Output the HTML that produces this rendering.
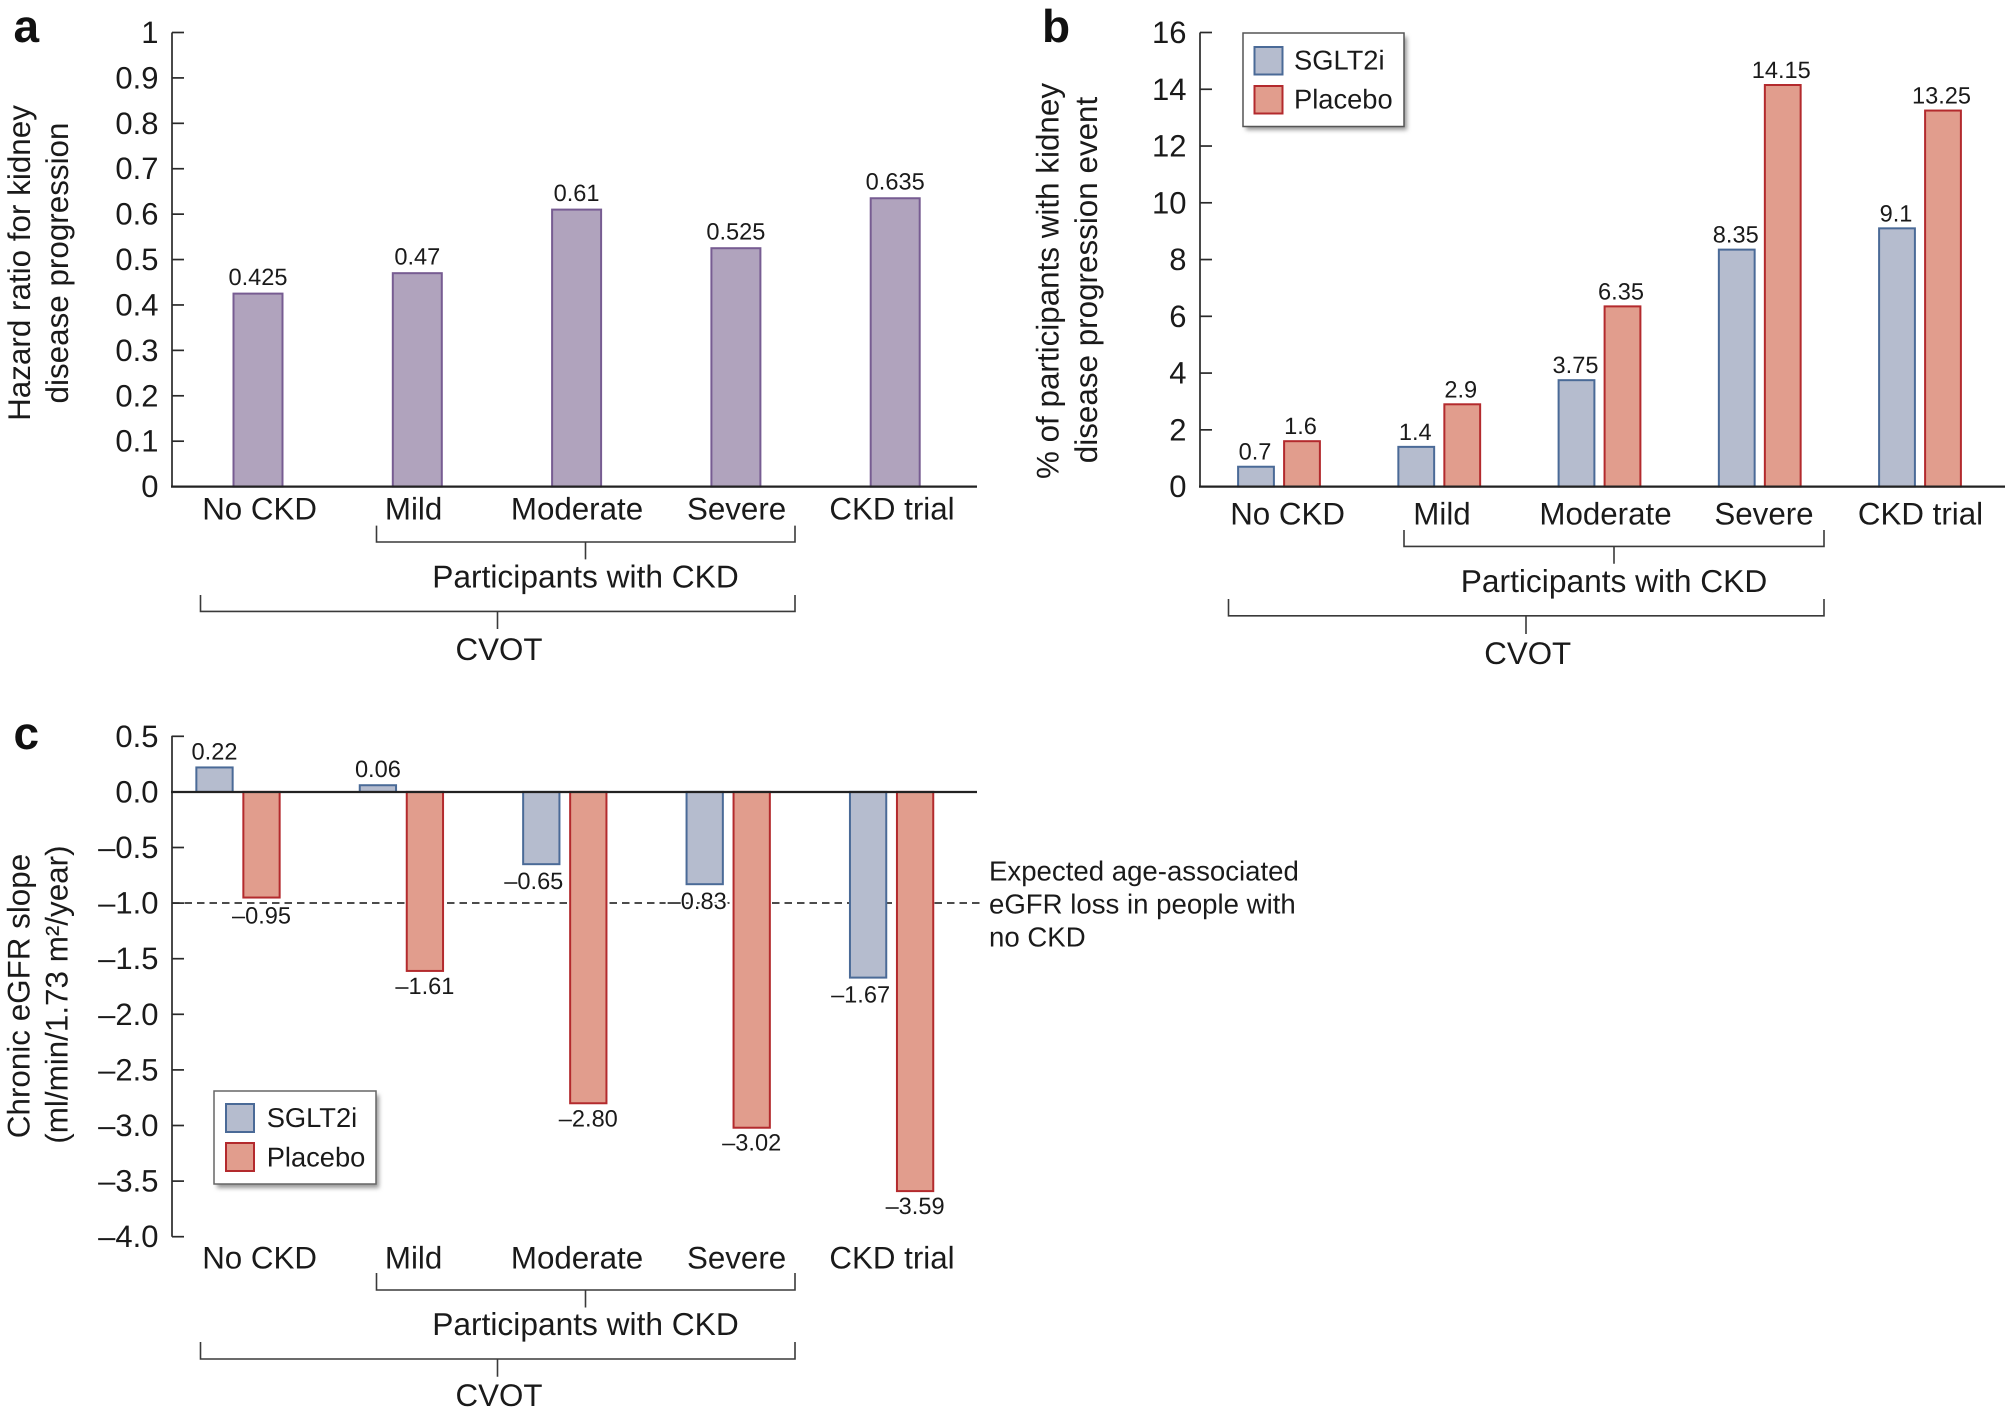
<!DOCTYPE html>
<html lang="en">
<head>
<meta charset="utf-8">
<title>Kidney outcomes with SGLT2 inhibitors</title>
<style>
html,body{margin:0;padding:0;background:#fff;}
svg{display:block;}
text{font-family:"Liberation Sans",sans-serif;fill:#1a1a1a;text-rendering:geometricPrecision;}
.tick{font-size:31px;text-anchor:end;}
.cat{font-size:31.3px;text-anchor:middle;}
.group{font-size:31.7px;text-anchor:middle;}
.title{font-size:31.4px;text-anchor:middle;}
.val{font-size:23.6px;text-anchor:middle;}
.leg{font-size:27.3px;}
.note{font-size:27.6px;}
.letter{font-size:46px;font-weight:bold;fill:#111;}
.ax{stroke:#2a2a2a;stroke-width:1.7;fill:none;}
.zero{stroke:#222;stroke-width:2.3;fill:none;}
.br{stroke:#3a3a3a;stroke-width:1.6;fill:none;}
.purple{fill:#b0a3bd;stroke:#775c92;stroke-width:2;}
.blue{fill:#b5bcce;stroke:#4a6a97;stroke-width:2;}
.red{fill:#e19d8d;stroke:#b32a2d;stroke-width:2;}
.halo{paint-order:stroke;stroke:#fff;stroke-width:4px;}
</style>
</head>
<body>
<svg xmlns="http://www.w3.org/2000/svg" width="2009" height="1413" viewBox="0 0 2009 1413">
<defs><filter id="soft" x="-10%" y="-10%" width="125%" height="125%"><feGaussianBlur stdDeviation="2"/></filter></defs>
<rect width="2009" height="1413" fill="#fff"/>

<!-- Panel a -->
<g>
<text class="letter" x="13.500" y="42">a</text>
<text class="title" transform="translate(30,263) rotate(-90)">Hazard ratio for kidney</text>
<text class="title" transform="translate(68,263) rotate(-90)">disease progression</text>
<g id="a-bars"></g>
<path class="ax" d="M172 32.5V486.6"/>
<g id="a-ticks"></g>
<path class="zero" d="M171 486.6H977"/>
<text class="cat" x="259.6" y="519.5">No CKD</text>
<text class="cat" x="413.6" y="519.5">Mild</text>
<text class="cat" x="577" y="519.5">Moderate</text>
<text class="cat" x="736.6" y="519.5">Severe</text>
<text class="cat" x="892" y="519.5">CKD trial</text>
<path class="br" d="M376.500 525.600V542H795V525.600M585.500 542V559.400"/>
<text class="group" x="585.500" y="587.600">Participants with CKD</text>
<path class="br" d="M200.500 595V611.400H795V595M497.500 611.400V629"/>
<text class="cat" x="499" y="660">CVOT</text>
</g>

<!-- Panel b -->
<g>
<text class="letter" x="1042" y="42">b</text>
<text class="title" transform="translate(1058.500,281) rotate(-90)">% of participants with kidney</text>
<text class="title" transform="translate(1097,280) rotate(-90)">disease progression event</text>
<g id="b-bars"></g>
<path class="ax" d="M1200 32.5V486.6"/>
<g id="b-ticks"></g>
<path class="zero" d="M1199 486.6H2005"/>
<text class="cat" x="1287.600" y="524.700">No CKD</text>
<text class="cat" x="1442" y="524.700">Mild</text>
<text class="cat" x="1605.500" y="524.700">Moderate</text>
<text class="cat" x="1764" y="524.700">Severe</text>
<text class="cat" x="1920.500" y="524.700">CKD trial</text>
<path class="br" d="M1404 530V546.400H1824V530M1614 546.400V563.700"/>
<text class="group" x="1614" y="592">Participants with CKD</text>
<path class="br" d="M1228.500 599V615.800H1824V599M1526 615.800V634"/>
<text class="cat" x="1527.700" y="664">CVOT</text>
<g>
<rect x="1246" y="37" width="161" height="93" fill="#999" filter="url(#soft)"/>
<rect x="1243" y="33" width="161" height="93.500" fill="#fff" stroke="#555" stroke-width="1.500"/>
<rect class="blue" x="1254.500" y="47" width="28" height="27.500"/>
<text class="leg" x="1294" y="69.500">SGLT2i</text>
<rect class="red" x="1254.500" y="86" width="28" height="27.500"/>
<text class="leg" x="1294" y="108.500">Placebo</text>
</g>
</g>

<!-- Panel c -->
<g>
<text class="letter" x="13.500" y="749">c</text>
<text class="title" transform="translate(29.600,996) rotate(-90)">Chronic eGFR slope</text>
<text class="title" transform="translate(67.600,994.600) rotate(-90)">(ml/min/1.73 m²/year)</text>
<path d="M172 903H980" fill="none" stroke="#111" stroke-width="1.500" stroke-dasharray="7.500 5"/>
<g id="c-bars"></g>
<path class="ax" d="M172 735.700V1236.700"/>
<g id="c-ticks"></g>
<path class="zero" d="M171 792H977"/>
<text class="note" x="989" y="880.500">Expected age-associated</text>
<text class="note" x="989" y="913.500">eGFR loss in people with</text>
<text class="note" x="989" y="946.500">no CKD</text>
<text class="cat" x="259.6" y="1268.400">No CKD</text>
<text class="cat" x="413.6" y="1268.400">Mild</text>
<text class="cat" x="577" y="1268.400">Moderate</text>
<text class="cat" x="736.6" y="1268.400">Severe</text>
<text class="cat" x="892" y="1268.400">CKD trial</text>
<path class="br" d="M376.500 1273V1290H795V1273M585.500 1290V1307.500"/>
<text class="group" x="585.500" y="1335">Participants with CKD</text>
<path class="br" d="M200.500 1342V1359H795V1342M497.500 1359V1376.700"/>
<text class="cat" x="499" y="1405.800">CVOT</text>
<g>
<rect x="217" y="1095" width="162" height="93" fill="#999" filter="url(#soft)"/>
<rect x="214" y="1091" width="162" height="93" fill="#fff" stroke="#666" stroke-width="1.500"/>
<rect class="blue" x="226" y="1104" width="28" height="28"/>
<text class="leg" x="266.700" y="1127">SGLT2i</text>
<rect class="red" x="226" y="1143" width="28" height="28"/>
<text class="leg" x="266.700" y="1166.500">Placebo</text>
</g>
</g>
</svg>

<script>
// Chart data
const categories = ['No CKD', 'Mild', 'Moderate', 'Severe', 'CKD trial'];
const hazardRatios = [0.425, 0.47, 0.61, 0.525, 0.635];
const eventSglt2i = [0.7, 1.4, 3.75, 8.35, 9.1];
const eventPlacebo = [1.6, 2.9, 6.35, 14.15, 13.25];
const slopeSglt2i = [0.22, 0.06, -0.65, -0.83, -1.67];
const slopePlacebo = [-0.95, -1.61, -2.8, -3.02, -3.59];
const hazardTicks = [0, 0.1, 0.2, 0.3, 0.4, 0.5, 0.6, 0.7, 0.8, 0.9, 1];
const eventTicks = [0, 2, 4, 6, 8, 10, 12, 14, 16];
const slopeTicks = [0.5, 0, -0.5, -1, -1.5, -2, -2.5, -3, -3.5, -4];

const SVG_NS = 'http://www.w3.org/2000/svg';

function linear(d0, d1, r0, r1) {
  return function (v) { return r0 + (v - d0) * (r1 - r0) / (d1 - d0); };
}
function band(start, step) {
  return function (i) { return start + i * step; };
}
function create(tag, attrs, parent, text) {
  const node = document.createElementNS(SVG_NS, tag);
  Object.keys(attrs).forEach(function (k) { node.setAttribute(k, attrs[k]); });
  if (text !== undefined) node.textContent = text;
  parent.appendChild(node);
  return node;
}
function slug(s) {
  return s.toLowerCase().replace(/\s+/g, '-');
}
function signed(text) {
  return text.replace('-', '\u2013');
}

function drawTicks(groupId, panel, ticks, y, axisX, format) {
  const g = document.getElementById(groupId);
  ticks.forEach(function (t) {
    const mark = create('path', { class: 'ax', d: 'M' + axisX + ' ' + y(t) + 'H' + (axisX + 12) }, g);
    
    
    const label = create('text', { class: 'tick', x: axisX - 13.5, y: y(t) + 10.5 }, g, format(t));
    
    
  });
}

function drawBar(g, panel, seriesName, cls, i, cx, width, value, y, format, nudge, gapAbove, gapBelow) {
  const y0 = y(0);
  const yv = y(value);
  const rect = create('rect', {
    class: cls,
    x: cx - width / 2 + 1,
    y: Math.min(y0, yv),
    width: width - 2,
    height: Math.abs(yv - y0)
  }, g);
  
  
  const below = value < 0;
  const label = create('text', {
    class: below ? 'val halo' : 'val',
    x: cx + nudge,
    y: below ? yv + gapBelow : yv - gapAbove
  }, g, format(value));
  
  
}

// Panel a
const yA = linear(0, 1, 486.6, 32.5);
const xA = band(258, 159.3);
drawTicks('a-ticks', 'panel-a', hazardTicks, yA, 172, String);
hazardRatios.forEach(function (v, i) {
  drawBar(document.getElementById('a-bars'), 'panel-a', 'hazard-ratio', 'purple', i, xA(i), 51, v, yA, String, 0, 8.5, 23);
});

// Panel b
const yB = linear(0, 16, 486.6, 32.5);
const xB = band(1279, 160.25);
drawTicks('b-ticks', 'panel-b', eventTicks, yB, 1200, String);
categories.forEach(function (c, i) {
  const g = document.getElementById('b-bars');
  drawBar(g, 'panel-b', 'sglt2i', 'blue', i, xB(i) - 23, 37.8, eventSglt2i[i], yB, String, -1, 7, 23);
  drawBar(g, 'panel-b', 'placebo', 'red', i, xB(i) + 23, 37.8, eventPlacebo[i], yB, String, -1.5, 7, 23);
});

// Panel c
const yC = linear(-4, 0.5, 1236.7, 736.3);
const xC = band(238, 163.4);
const formatTickC = function (t) { return signed(t.toFixed(1)); };
const formatValueC = function (v) { return signed(v.toFixed(2)); };
drawTicks('c-ticks', 'panel-c', slopeTicks, yC, 172, formatTickC);
categories.forEach(function (c, i) {
  const g = document.getElementById('c-bars');
  const sglt = slopeSglt2i[i];
  const plc = slopePlacebo[i];
  drawBar(g, 'panel-c', 'sglt2i', 'blue', i, xC(i) - 23.5, 38.3, sglt, yC, formatValueC, sglt < 0 ? -7.5 : 0, 8, 25);
  drawBar(g, 'panel-c', 'placebo', 'red', i, xC(i) + 23.5, 38.3, plc, yC, formatValueC, 0, 8, plc > -1 ? 26 : 23);
});
</script>
</body>
</html>
